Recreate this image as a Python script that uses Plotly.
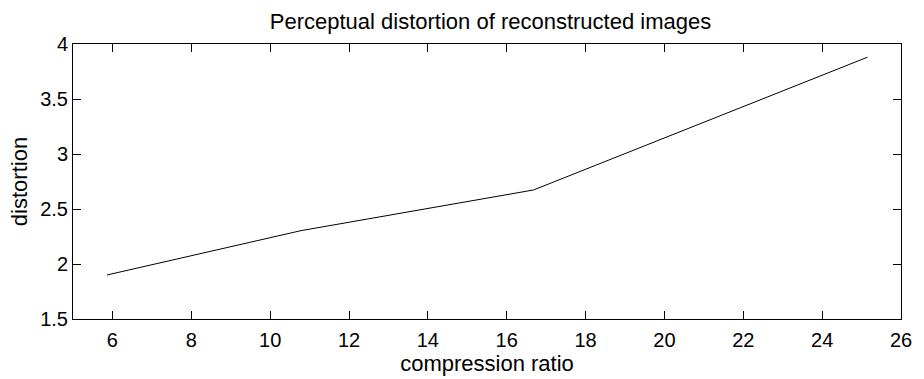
import plotly.graph_objects as go

compression_ratio = [5.86, 10.78, 16.68, 25.15]
distortion = [1.90, 2.303, 2.673, 3.88]

x_ticks = [6, 8, 10, 12, 14, 16, 18, 20, 22, 24, 26]
y_ticks = [1.5, 2, 2.5, 3, 3.5, 4]
y_tick_text = ["1.5", "2", "2.5", "3", "3.5", "4"]

fig = go.Figure()
fig.add_trace(go.Scatter(x=compression_ratio, y=distortion, mode="lines",
                         line=dict(color="black", width=1), showlegend=False))

font = "Liberation Sans, Arial, sans-serif"
fs = 20
fl = 22
fig.update_layout(
    width=924, height=379,
    margin=dict(l=73, r=16, t=44, b=60),
    paper_bgcolor="white", plot_bgcolor="white",
    title=dict(text="Perceptual distortion of reconstructed images",
               x=(73 + 908) / 2 / 924, xanchor="center", y=1 - 21 / 379, yanchor="middle",
               font=dict(family=font, size=fl, color="black")),
    font=dict(family=font, color="black"),
)
fig.update_xaxes(range=[5, 26], tickvals=x_ticks, ticks="inside", ticklen=8,
                 tickcolor="black", showgrid=False, zeroline=False,
                 showline=True, linecolor="black", linewidth=1, mirror="ticks",
                 tickfont=dict(family=font, size=fs), ticklabelstandoff=3,
                 title=dict(text="compression ratio", font=dict(family=font, size=fl), standoff=1))
fig.update_yaxes(range=[1.5, 4], tickvals=y_ticks, ticktext=y_tick_text,
                 ticks="inside", ticklen=8,
                 tickcolor="black", showgrid=False, zeroline=False,
                 showline=True, linecolor="black", linewidth=1, mirror="ticks",
                 tickfont=dict(family=font, size=fs),
                 title=dict(text="distortion", font=dict(family=font, size=fl), standoff=6))

fig.write_html("out.html", config={"displayModeBar": False},
               post_script="document.body.style.margin='0';document.body.style.overflow='hidden';")
